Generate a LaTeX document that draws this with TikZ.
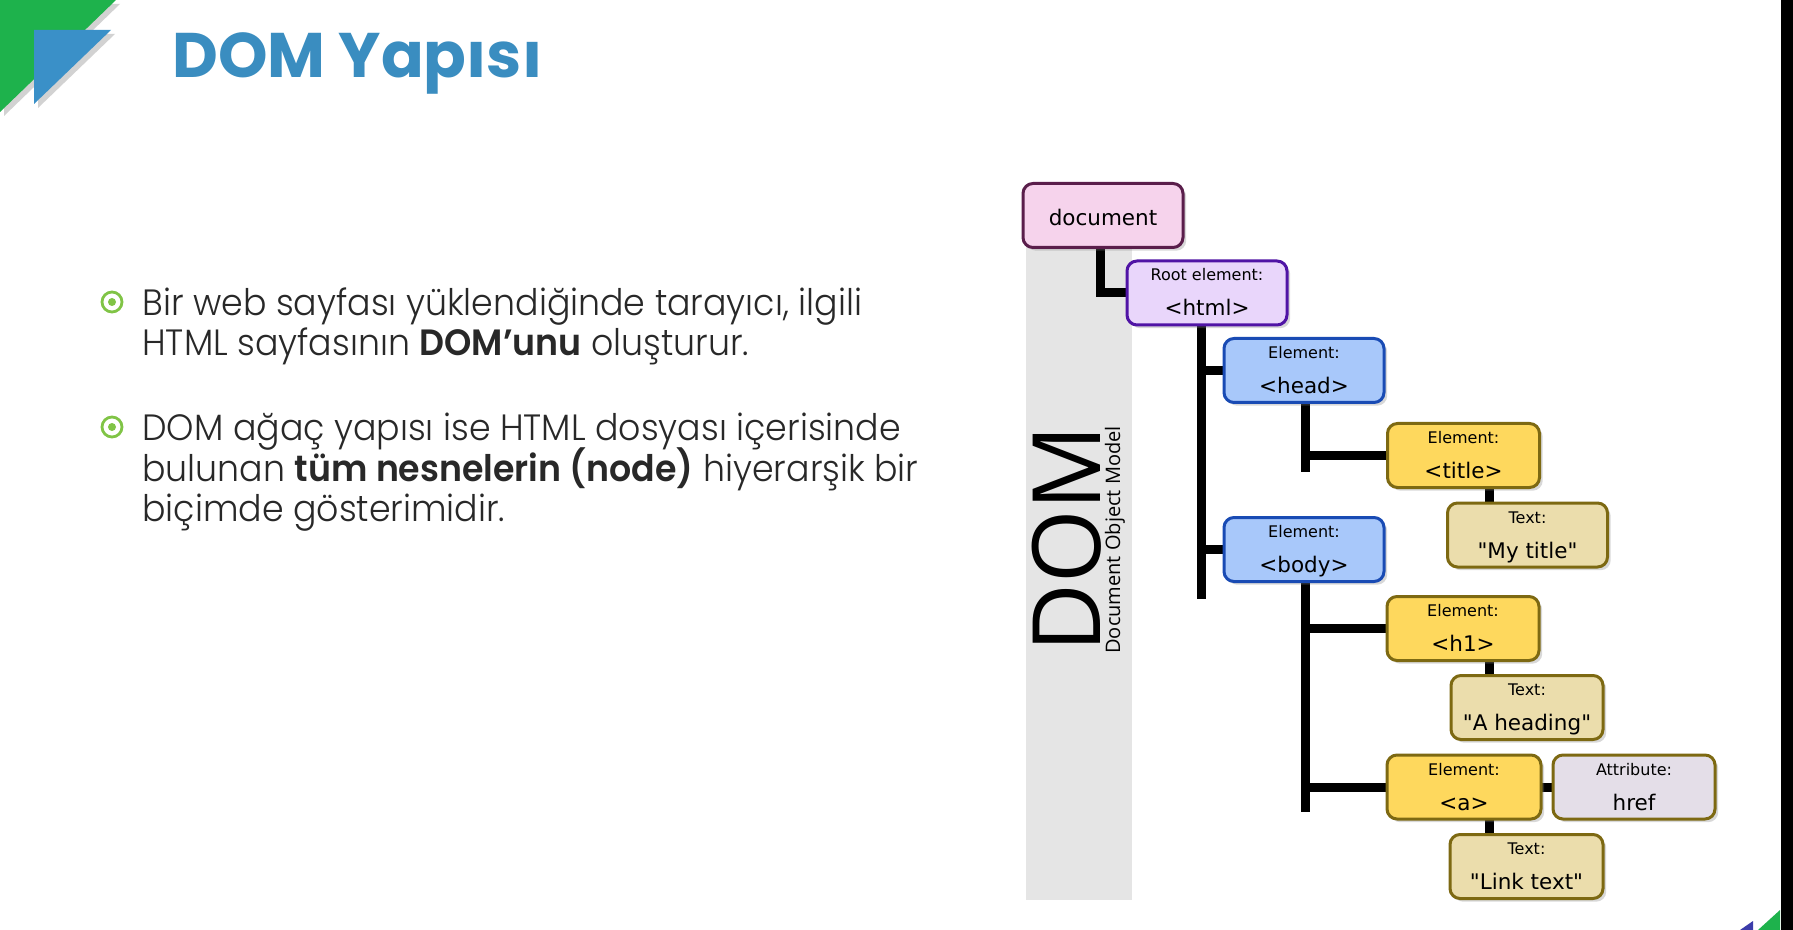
\documentclass[tikz,border=0pt]{standalone}
\usepackage{fontspec}
\usetikzlibrary{shadows,calc}
\newfontfamily\titlefont{Poppins}
\newfontfamily\bodyfont{Poppins Light}[BoldFont={Poppins SemiBold}]
\newfontfamily\boxfont{DejaVu Sans}
\newfontfamily\domfont{Open Sans}

\definecolor{cornergreen}{RGB}{30,178,76}
\definecolor{cornerblue}{RGB}{58,144,200}
\definecolor{cornerindigo}{RGB}{60,60,170}
\definecolor{titleblue}{RGB}{58,141,192}
\definecolor{bulletgreen}{RGB}{128,196,70}
\definecolor{bodytext}{RGB}{40,40,40}
\definecolor{bandgray}{RGB}{229,229,229}
\definecolor{docfill}{RGB}{246,211,236}
\definecolor{docdraw}{RGB}{90,30,75}
\definecolor{rootfill}{RGB}{233,214,251}
\definecolor{rootdraw}{RGB}{80,20,165}
\definecolor{elemfill}{RGB}{168,200,250}
\definecolor{elemdraw}{RGB}{25,75,180}
\definecolor{leaffill}{RGB}{254,216,93}
\definecolor{leafdraw}{RGB}{125,105,18}
\definecolor{textfill}{RGB}{235,221,172}
\definecolor{attrfill}{RGB}{228,222,232}

\pgfdeclarelayer{back}
\pgfdeclarelayer{links}
\pgfsetlayers{back,links,main}

% one tree box: name, style, centre x, centre y, width, kind label, value label
\newcommand\dombox[7]{%
  \node[dbox,#2,minimum width=#5*0.5pt] (#1) at (#3,#4) {};
  \node[kindlbl] (#1k) at ([yshift=-10pt]#1.north) {#6};
  \node[vallbl] (#1v) at ([yshift=-27.5pt]#1.north) {#7};
}

\begin{document}
\begin{tikzpicture}[x=0.5pt,y=-0.5pt,
  dbox/.style={draw,rounded corners=5pt,line width=1.5pt,minimum height=32pt,
    inner sep=0pt,outer sep=0pt,
    drop shadow={shadow xshift=1.6pt,shadow yshift=-1.6pt,opacity=0.3}},
  docbox/.style={fill=docfill,draw=docdraw},
  rootbox/.style={fill=rootfill,draw=rootdraw},
  elembox/.style={fill=elemfill,draw=elemdraw},
  leafbox/.style={fill=leaffill,draw=leafdraw},
  textbox/.style={fill=textfill,draw=leafdraw},
  attrbox/.style={fill=attrfill,draw=leafdraw},
  kindlbl/.style={anchor=base,inner sep=0pt,font=\boxfont\fontsize{8}{9.6}\selectfont},
  vallbl/.style={anchor=base,inner sep=0pt,font=\boxfont\fontsize{10.75}{13}\selectfont},
  conn/.style={line width=4.5pt,black},
  bodyline/.style={anchor=base west,inner sep=0pt,text=bodytext,xscale=0.95,
    font=\bodyfont\fontsize{18.3}{20}\selectfont},
  bulletmark/.style={circle,draw=bulletgreen,line width=1.4pt,minimum size=10pt,
    inner sep=0pt,path picture={\fill[bulletgreen] (path picture bounding box.center) circle (2pt);}}
]
\useasboundingbox (0,0) rectangle (1793,930);

% page ground and side band with the vertical caption
\begin{pgfonlayer}{back}
  \fill[white] (0,0) rectangle (1793,930);
  \fill[bandgray] (1026,246) rectangle (1132,900);
\end{pgfonlayer}
\node[anchor=base west,rotate=90,inner sep=0pt,
  font=\domfont\fontsize{47.2}{50}\selectfont] (domword) at (1100,653) {DOM};
\node[anchor=base west,rotate=90,inner sep=0pt,
  font=\domfont\fontsize{10}{12}\selectfont] (domsub) at (1120,654) {Document Object Model};

% corner decoration and title
\fill[cornergreen,drop shadow={shadow xshift=2pt,shadow yshift=-2pt,opacity=0.35}]
  (0,0) -- (116,0) -- (0,112) -- cycle;
\fill[cornerblue,drop shadow={shadow xshift=2pt,shadow yshift=-2pt,opacity=0.35}]
  (34,30) -- (111,30) -- (34,104) -- cycle;
\node[anchor=base west,inner sep=0pt,text=titleblue,
  font=\titlefont\bfseries\fontsize{31.5}{36}\selectfont] (title) at (172,78) {DOM Yapısı};

% right edge and lower corner marks
\fill[black] (1781,0) rectangle (1793,930);
\fill[cornergreen] (1780,910) -- (1780,930) -- (1758,930) -- cycle;
\fill[cornerindigo] (1753,921) -- (1753,930) -- (1740,930) -- cycle;

% bullet list
\node[bulletmark] (b1) at (112,302) {};
\node[bodyline] (l1) at (142,316) {Bir web sayfası yüklendiğinde tarayıcı, ilgili};
\node[bodyline] (l2) at (142,356) {HTML sayfasının \textbf{DOM’unu} oluşturur.};
\node[bulletmark] (b2) at (112,427) {};
\node[bodyline] (l3) at (142,441) {DOM ağaç yapısı ise HTML dosyası içerisinde};
\node[bodyline] (l4) at (142,481) {bulunan \textbf{tüm nesnelerin (node)} hiyerarşik bir};
\node[bodyline] (l5) at (142,521) {biçimde gösterimidir.};

% tree boxes
\node[dbox,docbox,minimum width=80pt] (doc) at (1103,215.5) {};
\node[vallbl] (docv) at ([yshift=-21pt]doc.north) {document};
\dombox{html}{rootbox}{1207}{293}{160}{Root element:}{<html>}
\dombox{head}{elembox}{1304}{370.5}{160}{Element:}{<head>}
\dombox{body}{elembox}{1304}{549.5}{160}{Element:}{<body>}
\dombox{ttl}{leafbox}{1463.5}{455.5}{152}{Element:}{<title>}
\dombox{mytitle}{textbox}{1527.5}{535}{160}{Text:}{"My title"}
\dombox{hone}{leafbox}{1463}{628.5}{152}{Element:}{<h1>}
\dombox{heading}{textbox}{1527}{707.5}{152}{Text:}{"A heading"}
\dombox{anchor}{leafbox}{1464}{787}{154}{Element:}{<a>}
\dombox{href}{attrbox}{1634}{787}{162}{Attribute:}{href}
\dombox{link}{textbox}{1526.5}{866.5}{153}{Text:}{"Link text"}

% connectors
\coordinate (docx) at (1100,0);
\coordinate (trunkA) at (1201,599);
\coordinate (trunkB) at (1305,472);
\coordinate (trunkC) at (1305,812);
\coordinate (leafx) at (1489,0);
\begin{pgfonlayer}{links}
  \draw[conn] (doc.south -| docx) |- (html.west);
  \draw[conn] (html.south -| trunkA) -- (trunkA);
  \draw[conn] (head.west -| trunkA) -- (head.west);
  \draw[conn] (body.west -| trunkA) -- (body.west);
  \draw[conn] (head.south -| trunkB) -- (trunkB);
  \draw[conn] (ttl.west -| trunkB) -- (ttl.west);
  \draw[conn] (body.south -| trunkC) -- (trunkC);
  \draw[conn] (hone.west -| trunkC) -- (hone.west);
  \draw[conn] (anchor.west -| trunkC) -- (anchor.west);
  \draw[conn] (ttl.south -| leafx) -- (mytitle.north -| leafx);
  \draw[conn] (hone.south -| leafx) -- (heading.north -| leafx);
  \draw[conn] (anchor.south -| leafx) -- (link.north -| leafx);
  \draw[conn] (anchor.east) -- (href.west);
\end{pgfonlayer}
\end{tikzpicture}
\end{document}
